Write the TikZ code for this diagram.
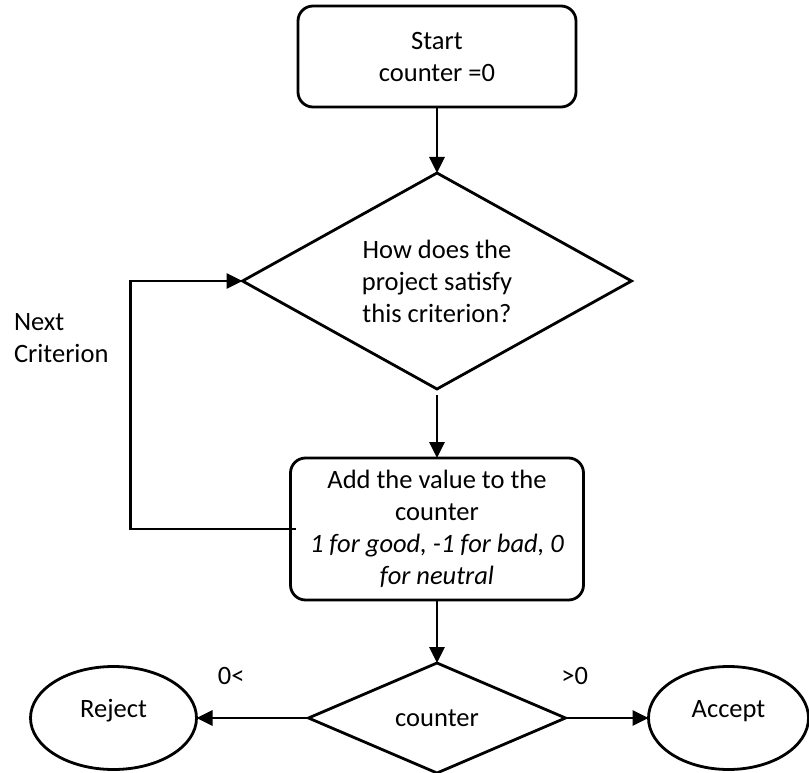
\documentclass[tikz,border=0pt]{standalone}
\usepackage{fontspec}
\setmainfont{Carlito}
\usetikzlibrary{positioning, shapes.geometric, arrows.meta}

\begin{document}
\begin{tikzpicture}[
		x=1pt, y=-1pt,
		node distance=60pt,
		every node/.style={font=\fontsize{26.5pt}{32pt}\selectfont, outer sep=0pt},
		% Styles
		box/.style={rectangle, draw=black, line width=2.8pt, rounded corners=15pt, align=center, inner sep=0pt},
		decision/.style={diamond, draw=black, line width=2.8pt, align=center, inner sep=0pt, aspect=1.8},
		oval/.style={ellipse, draw=black, line width=2.8pt, inner sep=0pt, text height=18pt, text depth=20pt},
		arrow/.style={-{Triangle[length=16pt,width=15pt]}, line width=2.8pt},
		lbl/.style={inner sep=0pt}
	]
	\useasboundingbox (0,0) rectangle (809,773);

	% --- Main column ---
	\node[box, minimum width=278pt, minimum height=101pt] (start) at (437,56.5) {Start\\counter =0};
	\node[decision, minimum width=389pt, minimum height=216pt] (crit) [below=66pt of start] {How does the\\project satisfy\\this criterion?};
	\node[box, minimum width=293pt, minimum height=142pt] (add) [below=69pt of crit] {Add the value to the\\counter\\\textit{1 for good, -1 for bad, 0}\\\textit{for neutral}};
	\node[decision, minimum width=257pt, minimum height=110pt] (decide) [below=63pt of add] {counter};

	% --- Outcomes ---
	\node[oval, minimum width=166pt, minimum height=103pt] (reject) [left=112pt of decide] {Reject};
	\node[oval, minimum width=160pt, minimum height=103pt] (accept) [right=83pt of decide] {Accept};

	% --- Loop label ---
	\node[lbl, anchor=west, align=left] (next) at (14,338) {Next\\Criterion};

	% --- ARROWS ---
	\draw[arrow] (start) -- (crit);
	\draw[arrow, shorten <=6pt] (crit) -- (add);
	\draw[arrow] (add) -- (decide);

	% Back to the next criterion
	\draw[arrow] ([xshift=5pt]add.west) -- ++(-165,0) |- (crit.west);

	% Decision on the total
	\draw[arrow] (decide.west) -- (reject.east) node[lbl, pos=0.69, above=33pt] (lt) {0<};
	\draw[arrow] (decide.east) -- (accept.west) node[lbl, pos=0.11, above=33pt] (gt) {>0};

\end{tikzpicture}
\end{document}
